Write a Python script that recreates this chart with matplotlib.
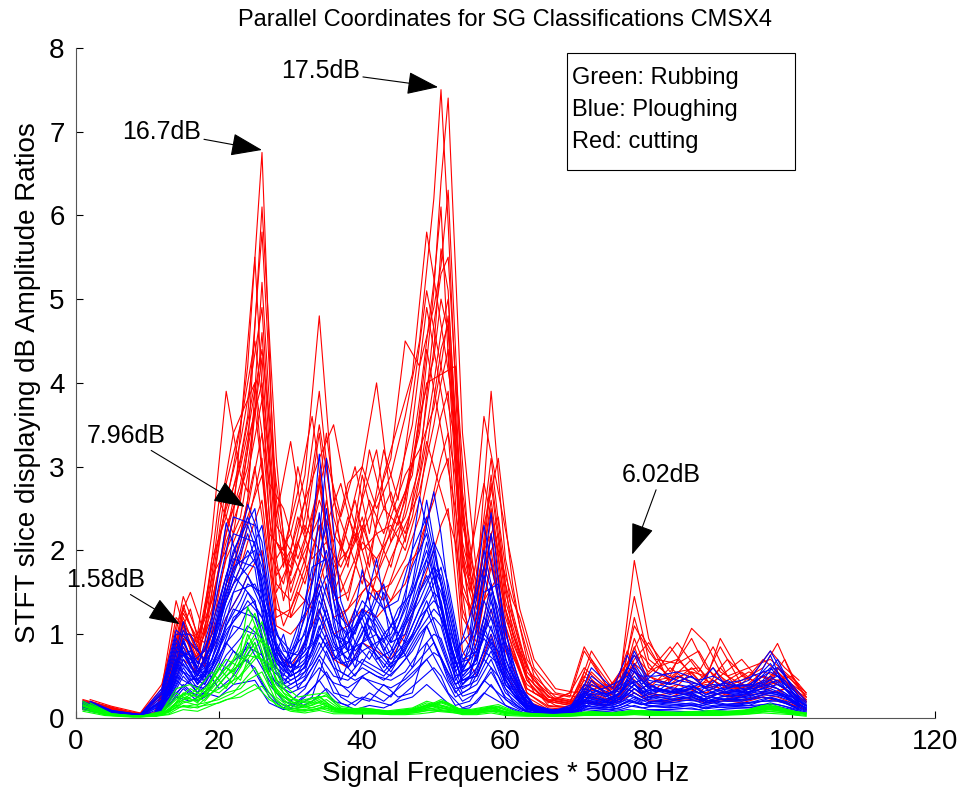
import numpy as np
import matplotlib.pyplot as plt
from matplotlib.patches import Rectangle

plt.rcParams['font.family'] = ['Liberation Sans', 'DejaVu Sans']

# frequency bins (x 5000 Hz) where the profiles are sampled
freq_idx = [1, 4, 8, 11, 13, 15, 17, 19, 21, 23, 24, 26, 28, 30, 32, 34, 36, 38, 40, 42,
            44, 46, 48, 50, 51, 52, 54, 56, 58, 60, 63, 66, 69, 71, 74, 76, 78, 80, 83, 86,
            88, 90, 93, 96, 98, 100, 102]
# second set of samples, on the in-between bins
freq_idx_alt = [2, 5, 9, 12, 14, 16, 18, 20, 22, 25, 27, 29, 31, 33, 35, 37, 39, 41, 43, 45,
                47, 49, 53, 55, 57, 59, 61, 62, 64, 67, 70, 72, 75, 77, 79, 81, 84, 87, 89, 91,
                94, 97, 99, 101]

# red: cutting
red_cutting = [
    [0.22,0.15,0.06,0.05,0.40, 1.30,0.90,1.60,2.80,3.50, 4.20,6.75,2.10,1.80,2.60, 3.90,2.20,1.90,2.40,1.70, 2.10,2.60,3.80,5.20,6.10, 4.30,1.60,1.10,2.20,1.10, 0.35,0.20,0.15,0.40,0.25, 0.35,0.85,0.40,0.30,0.55, 0.35,0.50,0.30,0.45,0.40, 0.30,0.20],
    [0.18,0.12,0.05,0.06,0.55, 1.10,0.70,1.90,2.40,3.10, 3.60,5.80,2.60,1.50,2.10, 2.80,1.60,2.30,3.00,2.50, 2.90,3.60,4.50,6.20,7.50, 5.90,2.10,1.40,2.60,1.30, 0.45,0.15,0.12,0.30,0.40, 0.30,1.20,0.60,0.45,0.70, 0.50,0.85,0.40,0.35,0.60, 0.45,0.25],
    [0.15,0.10,0.04,0.05,0.35, 0.95,0.80,1.40,2.10,2.60, 3.20,6.10,3.10,1.20,1.70, 2.30,1.40,1.50,2.10,1.90, 2.20,2.70,3.40,5.10,6.40, 7.40,3.40,1.70,3.10,1.60, 0.60,0.25,0.20,0.45,0.30, 0.25,0.55,0.35,0.60,0.40, 0.30,0.40,0.55,0.35,0.30, 0.40,0.20],
    [0.20,0.14,0.05,0.04,0.60, 1.45,1.00,2.20,3.90,2.90, 2.70,4.60,1.90,2.20,2.90, 4.80,2.60,2.10,1.60,2.30, 2.70,2.10,3.10,4.40,5.60, 5.10,1.80,1.20,2.00,0.90, 0.40,0.22,0.18,0.55,0.30, 0.40,0.65,0.50,0.35,0.30, 0.45,0.35,0.40,0.30,0.55, 0.35,0.22],
    [0.12,0.09,0.04,0.05,0.30, 0.85,0.60,1.10,1.70,2.20, 2.60,5.20,2.40,3.30,2.20, 3.40,1.90,1.40,2.20,2.60, 3.10,4.50,4.20,4.90,5.40, 6.30,2.60,1.00,1.80,1.10, 0.30,0.12,0.10,0.25,0.20, 0.30,0.45,0.30,0.25,0.35, 0.25,0.30,0.25,0.40,0.35, 0.20,0.15],
    [0.16,0.11,0.05,0.05,0.45, 1.20,0.75,1.30,2.30,2.70, 3.00,4.30,1.60,1.40,1.90, 2.60,2.10,2.80,3.00,4.00, 2.60,2.20,2.90,4.00,4.60, 5.00,2.30,1.60,3.90,1.90, 0.70,0.30,0.25,0.80,0.40, 0.35,0.70,0.90,0.55,0.95, 0.60,0.45,0.35,0.50,0.45, 0.35,0.25],
    [0.14,0.10,0.04,0.05,0.40, 1.00,0.65,1.50,2.60,3.30, 3.80,4.90,2.10,1.70,2.40, 3.50,2.40,1.80,2.90,2.20, 1.80,2.50,3.60,4.30,5.00, 4.60,2.00,1.30,2.80,1.40, 0.50,0.20,0.15,0.35,0.30, 0.45,1.88,0.95,0.40,0.50, 0.35,0.60,0.30,0.50,0.40, 0.30,0.18],
    [0.19,0.13,0.05,0.06,0.50, 1.35,0.85,1.70,2.00,2.40, 2.90,3.80,1.70,2.00,1.60, 2.30,1.50,1.90,2.30,1.80, 2.40,2.90,3.20,3.70,4.20, 4.80,1.50,1.10,2.40,1.20, 0.45,0.18,0.30,0.60,0.35, 0.50,1.45,0.70,0.50,1.07, 0.90,0.55,0.40,0.70,0.55, 0.40,0.28],
    [0.10,0.07,0.03,0.04,0.25, 0.70,0.55,0.90,1.60,1.90, 2.30,3.10,1.30,1.20,1.40, 1.90,1.20,1.30,1.70,1.50, 1.60,1.90,2.40,3.20,3.60, 3.90,1.30,0.80,1.60,0.80, 0.25,0.10,0.10,0.20,0.18, 0.22,0.40,0.25,0.30,0.28, 0.22,0.30,0.20,0.28,0.25, 0.18,0.12],
    [0.17,0.12,0.05,0.05,0.45, 1.15,0.80,1.20,1.90,2.30, 2.50,3.40,1.50,1.90,2.30, 2.00,1.70,2.40,2.00,1.40, 1.90,2.30,2.70,3.50,4.00, 4.40,1.90,1.30,2.20,1.00, 0.35,0.20,0.30,0.85,0.40, 0.30,0.95,0.50,0.40,0.60, 0.45,0.95,0.50,0.40,0.45, 0.50,0.30],
    [0.13,0.09,0.04,0.04,0.35, 1.00,0.70,1.00,1.50,2.10, 2.40,2.90,1.20,1.30,1.80, 2.90,1.50,1.10,1.50,1.70, 1.40,1.80,2.00,2.70,3.10, 3.40,1.20,0.90,1.90,1.00, 0.30,0.14,0.12,0.30,0.22, 0.28,0.55,0.40,0.30,0.35, 0.40,0.35,0.45,0.60,0.89, 0.50,0.25],
    [0.21,0.15,0.06,0.05,0.55, 1.25,0.95,1.40,2.20,2.80, 3.30,4.00,2.30,2.00,2.60, 3.10,3.50,2.60,2.00,2.20, 2.30,2.00,2.60,3.80,4.40, 4.70,2.40,1.40,2.90,1.50, 0.55,0.25,0.20,0.50,0.30, 0.55,0.75,0.55,0.85,0.50, 0.35,0.50,0.70,0.40,0.60, 0.45,0.30],
    [0.11,0.08,0.03,0.04,0.30, 0.80,0.50,1.00,1.40,1.80, 2.10,2.60,1.10,1.00,1.20, 1.60,1.00,1.10,1.30,1.20, 1.40,1.60,2.10,2.60,2.90, 3.10,1.00,0.70,1.30,0.60, 0.20,0.10,0.09,0.18,0.15, 0.20,0.35,0.20,0.22,0.25, 0.20,0.22,0.18,0.25,0.20, 0.16,0.10],
    [0.16,0.12,0.04,0.05,0.48, 1.05,0.90,1.80,2.50,3.00, 3.40,4.40,2.80,1.60,2.00, 2.40,1.80,2.00,2.60,3.20, 2.10,2.40,3.00,4.70,5.30, 5.50,2.70,1.50,2.50,1.30, 0.50,0.22,0.17,0.40,0.35, 0.40,1.10,0.80,0.45,0.55, 0.50,0.40,0.35,0.55,0.50, 0.38,0.22],
    [0.14,0.09,0.04,0.04,0.30, 0.90,0.55,0.80,1.20,1.50, 1.70,2.00,0.80,0.60,0.90, 1.30,0.70,0.60,0.90,0.80, 0.70,1.00,1.50,2.00,2.30, 2.50,0.80,0.50,1.00,0.50, 0.18,0.08,0.08,0.20,0.15, 0.20,0.30,0.20,0.20,0.22, 0.18,0.20,0.22,0.25,0.22, 0.16,0.10],
]
red_cutting_alt = [
    [0.20,0.12,0.05,0.30,1.20, 1.00,0.90,2.10,3.00,4.50, 3.10,1.80,3.00,2.20,3.40, 2.00,2.60,1.80,2.90,3.50, 4.10,5.80,3.60,1.50,2.30, 3.10,1.60,1.10,0.50,0.25, 0.20,0.55,0.30,0.80,0.45, 0.60,0.70,0.45,0.60,0.40, 0.55,0.45,0.70,0.35],
    [0.16,0.10,0.04,0.25,0.90, 1.30,0.60,1.50,2.40,5.50, 2.40,1.40,2.10,1.60,2.60, 1.50,1.90,2.60,2.20,2.80, 3.50,4.90,2.90,1.20,2.00, 2.40,1.20,0.90,0.40,0.20, 0.15,0.40,0.25,0.60,0.50, 0.35,0.55,0.60,0.35,0.30, 0.40,0.35,0.50,0.25],
    [0.18,0.11,0.05,0.35,1.40, 0.80,1.20,2.60,2.20,3.70, 2.20,2.00,2.70,3.60,2.30, 2.80,2.10,3.20,2.50,2.30, 3.00,4.00,4.20,1.90,2.80, 2.00,1.40,1.20,0.60,0.30, 0.25,0.70,0.35,0.50,0.75, 0.55,0.90,0.55,0.85,0.50, 0.60,0.70,0.55,0.40],
    [0.13,0.08,0.04,0.20,0.80, 0.70,0.80,1.20,1.80,3.00, 1.80,1.10,1.50,1.30,1.90, 1.20,1.40,1.60,1.40,1.90, 2.40,3.30,2.10,0.90,1.40, 1.70,0.90,0.70,0.30,0.15, 0.12,0.30,0.20,0.35,0.25, 0.30,0.40,0.30,0.30,0.25, 0.28,0.30,0.35,0.20],
    [0.22,0.14,0.06,0.40,1.10, 1.50,1.00,2.40,3.40,4.00, 2.80,2.50,1.90,2.40,3.10, 2.40,3.00,2.20,3.20,2.60, 3.80,5.10,3.30,1.70,3.60, 2.70,1.80,1.30,0.70,0.35, 0.30,0.80,0.40,0.65,1.00, 0.70,0.65,0.80,0.50,0.70, 0.45,0.80,0.60,0.45],
    [0.15,0.09,0.04,0.28,1.00, 0.90,0.70,1.80,2.60,4.00, 2.00,1.60,2.40,1.90,2.10, 1.80,2.20,1.40,2.00,2.50, 2.90,4.40,2.50,1.30,1.80, 2.20,1.00,0.80,0.45,0.22, 0.18,0.45,0.30,0.55,0.35, 0.45,0.50,0.40,0.45,0.35, 0.35,0.40,0.45,0.30],
]

# blue: ploughing
blue_ploughing = [
    [0.20,0.10,0.04,0.05,0.40, 1.15,0.55,0.90,1.60,2.10, 2.55,2.10,0.90,0.60,0.80, 1.50,0.90,0.70,1.10,0.80, 0.60,1.10,1.60,2.00,1.60, 1.10,0.50,0.70,1.40,0.60, 0.15,0.08,0.10,0.30,0.20, 0.25,0.45,0.30,0.25,0.30, 0.20,0.25,0.30,0.35,0.40, 0.30,0.15],
    [0.16,0.08,0.03,0.04,0.30, 0.85,0.45,0.70,1.30,1.70, 1.90,2.30,1.00,0.70,1.20, 3.15,1.40,0.80,0.90,1.00, 0.70,0.90,1.30,1.60,1.80, 1.40,0.60,0.80,1.20,0.50, 0.12,0.07,0.08,0.20,0.15, 0.20,0.35,0.25,0.20,0.25, 0.18,0.22,0.25,0.30,0.28, 0.22,0.12],
    [0.14,0.07,0.03,0.04,0.25, 0.70,0.40,0.60,1.10,1.40, 1.60,1.50,0.70,0.50,0.90, 2.45,1.10,0.60,0.80,0.90, 1.00,1.40,2.64,1.90,1.30, 1.00,0.40,0.60,1.00,0.40, 0.10,0.06,0.08,0.25,0.18, 0.30,0.60,0.35,0.28,0.35, 0.25,0.30,0.35,0.40,0.35, 0.25,0.14],
    [0.18,0.09,0.04,0.05,0.35, 0.95,0.50,0.80,1.40,1.80, 2.00,1.70,0.80,0.55,0.70, 1.20,0.80,0.90,1.20,0.70, 0.80,1.20,1.90,2.70,2.20, 1.50,0.60,1.20,2.45,0.90, 0.20,0.08,0.12,0.35,0.25, 0.40,0.75,0.40,0.30,0.40, 0.28,0.35,0.30,0.45,0.70, 0.35,0.18],
    [0.17,0.09,0.04,0.04,0.32, 0.90,0.60,1.20,2.33,1.80, 1.70,1.40,0.70,0.60,0.75, 1.00,0.70,0.80,1.77,1.00, 0.60,0.80,1.20,1.40,1.30, 0.90,0.45,0.50,0.90,0.40, 0.12,0.07,0.09,0.22,0.18, 0.22,0.40,0.28,0.22,0.28, 0.20,0.22,0.25,0.30,0.30, 0.22,0.12],
    [0.15,0.08,0.03,0.04,0.28, 0.75,0.50,0.90,1.50,2.00, 2.30,1.80,0.80,0.50,0.60, 1.40,1.00,0.90,1.20,1.90, 0.90,1.00,1.50,1.80,1.70, 1.30,0.55,0.90,2.20,0.70, 0.15,0.07,0.10,0.28,0.20, 0.28,0.50,0.30,0.35,0.30, 0.22,0.30,0.28,0.35,0.30, 0.25,0.15],
    [0.12,0.06,0.03,0.03,0.20, 0.60,0.35,0.55,0.90,1.10, 1.30,1.10,0.55,0.40,0.50, 0.90,0.60,0.50,0.70,0.60, 0.50,0.70,1.00,1.20,1.10, 0.80,0.35,0.45,0.80,0.35, 0.10,0.05,0.07,0.18,0.14, 0.18,0.30,0.20,0.18,0.22, 0.16,0.20,0.20,0.25,0.22, 0.18,0.10],
    [0.19,0.10,0.04,0.05,0.38, 1.05,0.65,1.00,1.70,2.20, 2.40,1.90,1.00,0.80,1.00, 1.70,1.20,1.00,1.40,1.20, 0.90,1.30,1.70,2.10,1.90, 1.60,0.70,0.80,1.60,0.70, 0.18,0.09,0.12,0.40,0.28, 0.35,0.80,0.45,0.40,0.50, 0.35,0.40,0.45,0.55,0.60, 0.40,0.20],
    [0.13,0.07,0.03,0.04,0.22, 0.65,0.40,0.70,1.20,1.50, 1.70,1.30,0.60,0.45,0.55, 1.10,0.75,0.60,0.90,0.75, 0.55,0.85,1.10,1.50,1.40, 1.00,0.40,0.55,1.10,0.45, 0.12,0.06,0.08,0.22,0.16, 0.25,0.40,0.25,0.25,0.30, 0.20,0.25,0.28,0.32,0.30, 0.20,0.12],
    [0.16,0.08,0.04,0.04,0.30, 0.80,0.45,0.65,1.00,1.30, 1.50,1.20,0.70,0.55,0.65, 1.30,0.85,0.70,1.00,1.50, 1.10,0.90,1.30,1.70,1.50, 1.20,0.50,0.70,1.30,0.55, 0.14,0.07,0.10,0.25,0.22, 0.30,0.55,0.35,0.30,0.35, 0.25,0.30,0.32,0.38,0.45, 0.28,0.14],
    [0.11,0.06,0.03,0.03,0.18, 0.50,0.30,0.45,0.75,0.95, 1.10,0.95,0.45,0.35,0.45, 0.75,0.50,0.45,0.60,0.50, 0.45,0.55,0.80,1.00,0.95, 0.70,0.30,0.40,0.70,0.30, 0.08,0.05,0.06,0.15,0.12, 0.15,0.25,0.18,0.15,0.18, 0.14,0.16,0.18,0.20,0.20, 0.15,0.09],
    [0.17,0.09,0.04,0.05,0.33, 0.92,0.55,0.85,1.45,1.95, 2.20,1.60,0.85,0.65,0.85, 1.60,1.00,0.80,1.30,1.10, 0.75,1.10,1.40,1.80,1.60, 1.30,0.55,0.65,1.50,0.60, 0.16,0.08,0.11,0.32,0.22, 0.30,0.65,0.38,0.32,0.38, 0.28,0.35,0.38,0.42,0.50, 0.32,0.16],
    [0.14,0.07,0.03,0.04,0.24, 0.70,0.42,0.62,1.05,1.25, 1.40,1.20,0.65,0.50,0.60, 1.00,0.70,0.90,1.30,0.85, 0.65,0.75,1.05,1.30,1.20, 0.95,0.45,0.50,0.95,0.40, 0.11,0.06,0.09,0.20,0.16, 0.20,0.35,0.22,0.20,0.26, 0.18,0.22,0.22,0.28,0.26, 0.20,0.11],
    [0.10,0.05,0.02,0.03,0.15, 0.40,0.25,0.38,0.60,0.75, 0.85,0.75,0.40,0.30,0.38, 0.60,0.42,0.36,0.48,0.42, 0.36,0.46,0.62,0.78,0.72, 0.55,0.26,0.32,0.55,0.25, 0.07,0.04,0.05,0.12,0.10, 0.12,0.20,0.14,0.12,0.15, 0.11,0.13,0.14,0.16,0.16, 0.12,0.07],
    [0.12,0.06,0.03,0.03,0.14, 0.35,0.20,0.30,0.50,0.65, 0.70,0.40,0.20,0.12,0.25, 0.45,0.20,0.15,0.25,0.20, 0.15,0.30,0.45,0.60,0.50, 0.30,0.12,0.18,0.40,0.15, 0.05,0.04,0.05,0.10,0.08, 0.10,0.15,0.10,0.10,0.12, 0.08,0.10,0.12,0.14,0.14, 0.10,0.06],
    [0.14,0.07,0.03,0.04,0.20, 0.55,0.30,0.60,0.90,0.70, 0.90,0.60,0.30,0.20,0.35, 0.70,0.30,0.25,0.50,0.35, 0.25,0.50,0.70,0.90,0.70, 0.45,0.20,0.30,0.60,0.22, 0.07,0.05,0.06,0.14,0.12, 0.15,0.22,0.15,0.14,0.16, 0.12,0.15,0.16,0.20,0.22, 0.14,0.08],
]
blue_ploughing_alt = [
    [0.18,0.08,0.04,0.30,0.95, 0.60,0.45,1.30,1.90,1.80, 0.70,0.50,0.90,1.60,2.30, 1.00,0.60,1.20,0.80,1.10, 1.60,2.60,0.60,0.90,2.00, 1.20,0.50,0.30,0.12,0.08, 0.15,0.35,0.25,0.55,0.30, 0.40,0.35,0.30,0.45,0.30, 0.35,0.60,0.40,0.22],
    [0.15,0.07,0.03,0.22,0.80, 0.75,0.60,1.00,2.20,2.10, 1.00,0.70,0.60,1.20,3.10, 1.40,0.90,0.70,1.00,0.70, 1.20,1.90,0.45,0.70,1.50, 1.60,0.60,0.35,0.14,0.07, 0.12,0.45,0.20,0.40,0.45, 0.30,0.50,0.40,0.35,0.45, 0.30,0.75,0.35,0.18],
    [0.12,0.06,0.03,0.18,0.60, 0.50,0.40,0.80,1.50,1.60, 1.20,0.40,0.70,0.90,1.60, 0.80,1.30,0.90,0.60,0.90, 1.40,2.10,0.50,0.60,1.20, 0.90,0.40,0.25,0.10,0.06, 0.10,0.28,0.30,0.35,0.25, 0.35,0.30,0.25,0.30,0.25, 0.28,0.40,0.30,0.15],
    [0.20,0.09,0.04,0.35,1.05, 0.90,0.70,1.60,2.40,2.30, 0.90,0.60,1.10,1.40,2.00, 1.20,1.00,1.50,1.30,1.40, 2.00,2.40,0.80,1.00,2.30, 1.40,0.70,0.40,0.15,0.09, 0.18,0.60,0.35,0.75,0.40, 0.55,0.45,0.40,0.60,0.35, 0.45,0.80,0.50,0.25],
    [0.14,0.06,0.03,0.20,0.70, 0.55,0.55,1.10,1.70,1.40, 0.60,0.45,0.55,0.80,1.30, 0.70,0.50,0.80,0.55,0.75, 1.00,1.40,0.40,0.50,1.00, 0.80,0.35,0.22,0.09,0.05, 0.09,0.22,0.18,0.28,0.20, 0.25,0.22,0.20,0.25,0.20, 0.22,0.30,0.25,0.13],
    [0.17,0.08,0.04,0.28,0.90, 0.65,0.80,1.40,2.00,2.50, 1.30,0.80,0.75,1.10,2.50, 1.10,0.80,1.00,1.50,1.00, 1.30,1.70,0.70,1.20,1.80, 1.30,0.55,0.35,0.13,0.08, 0.14,0.40,0.28,0.45,0.35, 0.45,0.40,0.35,0.40,0.38, 0.40,0.55,0.45,0.20],
    [0.11,0.05,0.02,0.15,0.50, 0.40,0.35,0.65,1.10,1.00, 0.50,0.35,0.45,0.65,1.00, 0.55,0.45,0.55,0.45,0.60, 0.80,1.10,0.35,0.40,0.80, 0.65,0.30,0.18,0.08,0.05, 0.08,0.18,0.15,0.22,0.16, 0.20,0.18,0.16,0.20,0.16, 0.18,0.25,0.20,0.10],
    [0.19,0.09,0.04,0.32,1.00, 1.00,0.65,1.20,1.80,2.00, 0.80,0.55,1.00,1.80,1.90, 0.90,1.10,1.30,1.00,1.20, 1.80,2.20,0.55,0.80,1.70, 1.10,0.60,0.38,0.14,0.08, 0.16,0.50,0.30,0.60,0.50, 0.50,0.55,0.45,0.50,0.40, 0.38,0.65,0.42,0.22],
    [0.13,0.06,0.03,0.20,0.65, 0.45,0.50,0.90,1.30,1.20, 0.70,0.40,0.50,0.75,1.20, 0.65,0.70,0.60,0.50,0.70, 0.95,1.30,0.40,0.55,0.95, 0.70,0.35,0.22,0.09,0.05, 0.09,0.25,0.18,0.30,0.22, 0.28,0.25,0.22,0.25,0.22, 0.25,0.35,0.28,0.14],
    [0.16,0.07,0.03,0.25,0.85, 0.70,0.50,1.20,1.60,1.90, 1.10,0.65,0.80,1.30,1.70, 1.30,0.70,1.10,0.90,1.30, 1.50,2.00,0.65,0.70,1.40, 1.00,0.45,0.30,0.11,0.07, 0.13,0.35,0.22,0.40,0.30, 0.35,0.30,0.30,0.35,0.30, 0.30,0.45,0.35,0.18],
    [0.10,0.05,0.02,0.12,0.45, 0.30,0.25,0.50,0.80,0.60, 0.25,0.12,0.20,0.35,0.55, 0.25,0.15,0.30,0.20,0.35, 0.50,0.70,0.15,0.20,0.45, 0.30,0.15,0.10,0.05,0.04, 0.06,0.12,0.10,0.15,0.12, 0.14,0.12,0.10,0.14,0.12, 0.12,0.18,0.14,0.08],
    [0.13,0.06,0.03,0.16,0.30, 0.45,0.60,0.35,0.50,0.90, 0.40,0.20,0.15,0.25,0.80, 0.40,0.25,0.20,0.40,0.25, 0.30,0.90,0.25,0.35,0.70, 0.50,0.20,0.12,0.06,0.04, 0.07,0.16,0.12,0.20,0.16, 0.18,0.16,0.14,0.18,0.15, 0.15,0.24,0.18,0.10],
    [0.08,0.04,0.02,0.08,0.25, 0.20,0.30,0.25,0.40,0.45, 0.18,0.10,0.12,0.20,0.35, 0.18,0.10,0.15,0.12,0.20, 0.25,0.40,0.10,0.12,0.30, 0.20,0.10,0.07,0.04,0.03, 0.04,0.08,0.07,0.10,0.08, 0.09,0.08,0.07,0.09,0.08, 0.08,0.12,0.09,0.05],
    [0.15,0.07,0.03,0.20,0.70, 0.80,0.40,0.70,1.20,1.40, 0.55,1.00,0.35,0.60,0.90, 0.45,0.85,1.20,1.60,0.90, 0.60,1.10,0.30,0.50,1.10, 0.60,0.30,0.18,0.08,0.05, 0.10,0.30,0.40,0.50,0.30, 0.35,0.30,0.40,0.30,0.35, 0.30,0.50,0.35,0.16],
]

# green: rubbing
green_rubbing = [
    [0.20,0.06,0.02,0.02,0.10, 0.25,0.20,0.35,0.55,0.80, 1.33,0.90,0.30,0.15,0.12, 0.20,0.10,0.08,0.10,0.08, 0.06,0.07,0.10,0.14,0.18, 0.15,0.08,0.07,0.12,0.06, 0.04,0.03,0.04,0.06,0.05, 0.06,0.08,0.06,0.05,0.06, 0.05,0.06,0.07,0.12,0.10, 0.07,0.05],
    [0.16,0.05,0.02,0.02,0.08, 0.30,0.25,0.45,0.70,0.60, 0.85,1.15,0.40,0.20,0.15, 0.25,0.12,0.09,0.12,0.10, 0.07,0.08,0.12,0.18,0.22, 0.18,0.09,0.08,0.14,0.07, 0.05,0.04,0.04,0.07,0.06, 0.07,0.09,0.07,0.06,0.07, 0.06,0.07,0.08,0.14,0.12, 0.08,0.06],
    [0.12,0.04,0.02,0.02,0.07, 0.20,0.15,0.30,0.40,0.50, 0.60,0.80,0.25,0.12,0.10, 0.15,0.08,0.07,0.09,0.07, 0.05,0.06,0.09,0.12,0.15, 0.12,0.07,0.06,0.10,0.05, 0.04,0.03,0.03,0.05,0.04, 0.05,0.07,0.05,0.05,0.05, 0.04,0.05,0.06,0.10,0.09, 0.06,0.04],
    [0.18,0.05,0.02,0.03,0.09, 0.22,0.35,0.55,0.35,0.70, 1.00,0.65,0.35,0.18,0.14, 0.22,0.11,0.09,0.11,0.09, 0.07,0.08,0.11,0.16,0.20, 0.17,0.08,0.07,0.13,0.06, 0.05,0.03,0.04,0.06,0.05, 0.06,0.08,0.06,0.06,0.06, 0.05,0.06,0.07,0.13,0.11, 0.07,0.05],
    [0.10,0.04,0.02,0.02,0.05, 0.15,0.12,0.20,0.30,0.35, 0.45,0.55,0.20,0.10,0.08, 0.12,0.07,0.06,0.07,0.06, 0.05,0.05,0.07,0.10,0.12, 0.10,0.05,0.05,0.08,0.04, 0.03,0.02,0.03,0.04,0.04, 0.04,0.05,0.04,0.04,0.04, 0.04,0.04,0.05,0.08,0.07, 0.05,0.03],
    [0.14,0.05,0.02,0.02,0.08, 0.28,0.18,0.40,0.60,0.45, 0.70,0.95,0.45,0.25,0.18, 0.18,0.10,0.08,0.10,0.09, 0.06,0.07,0.10,0.15,0.19, 0.16,0.08,0.07,0.12,0.06, 0.04,0.03,0.04,0.06,0.05, 0.06,0.08,0.06,0.05,0.06, 0.05,0.06,0.07,0.11,0.10, 0.07,0.05],
    [0.08,0.03,0.01,0.02,0.04, 0.10,0.08,0.15,0.22,0.25, 0.30,0.38,0.15,0.08,0.06, 0.09,0.05,0.05,0.05,0.05, 0.04,0.04,0.05,0.07,0.09, 0.08,0.04,0.04,0.06,0.03, 0.02,0.02,0.02,0.03,0.03, 0.03,0.04,0.03,0.03,0.03, 0.03,0.03,0.04,0.06,0.05, 0.04,0.02],
    [0.15,0.05,0.02,0.02,0.07, 0.18,0.22,0.30,0.50,0.65, 0.75,0.70,0.30,0.22,0.20, 0.26,0.12,0.10,0.12,0.10, 0.08,0.09,0.12,0.17,0.20, 0.17,0.09,0.08,0.13,0.07, 0.05,0.04,0.05,0.07,0.06, 0.07,0.09,0.07,0.06,0.07, 0.06,0.07,0.08,0.15,0.13, 0.08,0.06],
]
green_rubbing_alt = [
    [0.15,0.04,0.02,0.06,0.25, 0.30,0.20,0.40,0.60,1.10, 0.50,0.20,0.12,0.15,0.22, 0.10,0.08,0.07,0.06,0.08, 0.10,0.15,0.09,0.08,0.10, 0.12,0.07,0.05,0.04,0.03, 0.04,0.06,0.05,0.06,0.07, 0.06,0.05,0.06,0.07,0.06, 0.08,0.13,0.09,0.05],
    [0.12,0.03,0.02,0.05,0.18, 0.25,0.35,0.30,0.45,0.90, 0.40,0.25,0.15,0.12,0.18, 0.09,0.07,0.06,0.06,0.07, 0.08,0.12,0.08,0.07,0.09, 0.10,0.06,0.05,0.04,0.03, 0.03,0.05,0.04,0.05,0.06, 0.05,0.05,0.05,0.06,0.05, 0.07,0.11,0.08,0.04],
    [0.18,0.05,0.02,0.07,0.30, 0.20,0.28,0.60,0.40,0.75, 0.65,0.30,0.20,0.24,0.26, 0.12,0.10,0.08,0.07,0.09, 0.11,0.18,0.10,0.09,0.12, 0.14,0.08,0.06,0.05,0.04, 0.05,0.07,0.05,0.07,0.08, 0.07,0.06,0.07,0.08,0.07, 0.09,0.15,0.10,0.06],
    [0.09,0.03,0.01,0.04,0.12, 0.15,0.18,0.22,0.30,0.60, 0.30,0.15,0.10,0.09,0.12, 0.07,0.05,0.05,0.05,0.05, 0.06,0.09,0.06,0.05,0.07, 0.08,0.05,0.04,0.03,0.02, 0.03,0.04,0.03,0.04,0.05, 0.04,0.04,0.04,0.05,0.04, 0.05,0.08,0.06,0.03],
    [0.14,0.04,0.02,0.06,0.22, 0.35,0.25,0.50,0.70,1.25, 0.75,0.35,0.18,0.20,0.28, 0.11,0.09,0.08,0.07,0.08, 0.10,0.16,0.09,0.08,0.11, 0.13,0.07,0.05,0.04,0.03, 0.04,0.06,0.05,0.06,0.07, 0.06,0.06,0.06,0.07,0.06, 0.08,0.14,0.09,0.05],
    [0.10,0.03,0.02,0.05,0.15, 0.12,0.15,0.18,0.25,0.40, 0.22,0.12,0.08,0.10,0.14, 0.08,0.06,0.06,0.05,0.06, 0.07,0.10,0.07,0.06,0.08, 0.09,0.05,0.04,0.03,0.03, 0.03,0.05,0.04,0.05,0.06, 0.05,0.05,0.05,0.06,0.05, 0.06,0.10,0.07,0.04],
    [0.16,0.05,0.02,0.08,0.35, 0.40,0.30,0.65,0.55,0.95, 0.85,0.40,0.25,0.28,0.30, 0.14,0.11,0.09,0.08,0.10, 0.12,0.20,0.11,0.10,0.13, 0.16,0.09,0.07,0.05,0.04, 0.05,0.08,0.06,0.08,0.09, 0.08,0.07,0.08,0.09,0.08, 0.10,0.17,0.11,0.07],
]

# peak annotations: label, peak (x, y), text position (x, y)
ann_labels = ['17.5dB', '16.7dB', '7.96dB', '1.58dB', '6.02dB']
ann_peak = [(50.6, 7.53), (26.0, 6.78), (23.6, 2.52), (14.5, 1.12), (77.7, 1.95)]
ann_text = [(34.2, 7.72), (12.0, 7.0), (7.1, 3.37), (4.2, 1.65), (81.8, 2.9)]

legend_lines = ['Green: Rubbing', 'Blue: Ploughing', 'Red: cutting']


fig = plt.figure(figsize=(9.6, 7.96), dpi=100)
ax = fig.add_axes([0.079, 0.098, 0.895, 0.842])

groups = [(red_cutting, red_cutting_alt, '#ff0000'),
          (blue_ploughing, blue_ploughing_alt, '#0000ff'),
          (green_rubbing, green_rubbing_alt, '#00ff00')]
for rows, rows_alt, col in groups:
    for row in rows:
        ax.plot(freq_idx, row, color=col, lw=0.8)
    for row in rows_alt:
        ax.plot(freq_idx_alt, row, color=col, lw=0.8)

for lab, tip, txt in zip(ann_labels, ann_peak, ann_text):
    ax.annotate(lab, xy=tip, xytext=txt, fontsize=18, ha='center', va='center',
                arrowprops=dict(arrowstyle='-|>,head_length=1.1,head_width=0.4',
                                color='k', lw=0.8, shrinkA=0, shrinkB=0))

ax.set_xlim(0, 120)
ax.set_ylim(0, 8)
ax.set_xticks(np.arange(0, 121, 20))
ax.set_yticks(np.arange(0, 9, 1))
ax.tick_params(direction='in', length=5, labelsize=20, pad=8)
ax.spines['top'].set_visible(False)
ax.spines['right'].set_visible(False)
ax.spines['left'].set_color('#555555')
ax.spines['bottom'].set_color('#555555')
ax.set_xlabel('Signal Frequencies * 5000 Hz', fontsize=20, labelpad=4)
ax.set_ylabel('STFT slice displaying dB Amplitude Ratios', fontsize=20, labelpad=6)
ax.set_title('Parallel Coordinates for SG Classifications CMSX4', fontsize=17, pad=16)

# text box used as a legend
fig.patches.append(Rectangle((0.591, 0.786), 0.237, 0.147, transform=fig.transFigure,
                             fill=False, edgecolor='k', lw=0.8))
for i, line in enumerate(legend_lines):
    fig.text(0.596, 0.902 - i * 0.040, line, fontsize=17, va='center', ha='left')

fig.savefig('out.png', dpi=100)
